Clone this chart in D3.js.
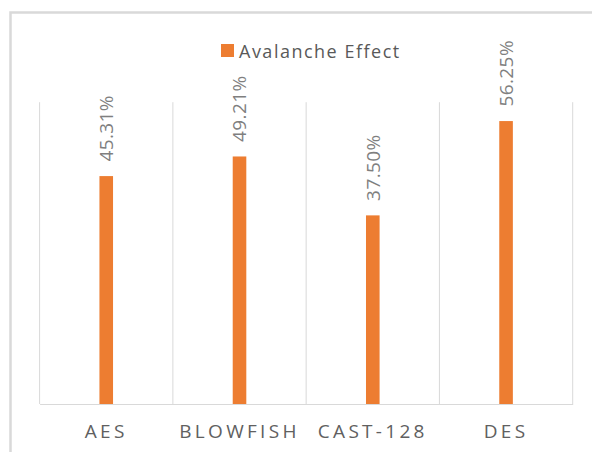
<!DOCTYPE html>
<html>
<head>
<meta charset="utf-8">
<script src="https://cdn.jsdelivr.net/npm/d3@7"></script>
<style>
  html, body { margin: 0; padding: 0; background: #ffffff; }
  svg { display: block; }
</style>
</head>
<body>
<div id="chart"></div>
<script>
const categories = ["AES", "BLOWFISH", "CAST-128", "DES"];
const seriesName = "Avalanche Effect";
const values = [0.4531, 0.4921, 0.3750, 0.5625];
const yMax = 0.6;

const W = 592, H = 452;
const svg = d3.select("#chart").append("svg").attr("width", W).attr("height", H);

// chart area border (extends beyond right/bottom edges)
svg.append("path")
  .attr("d", `M10.5,${H + 5} L10.5,12.5 L${W + 5},12.5`)
  .attr("fill", "none")
  .attr("stroke", "#d9d9d9")
  .attr("stroke-width", 2.5);

const plot = { left: 39.6, right: 572.7, top: 102.2, bottom: 404 };

const x = d3.scaleBand().domain(categories).range([plot.left, plot.right]).padding(0);
const y = d3.scaleLinear().domain([0, yMax]).range([plot.bottom, plot.top]);

// vertical category gridlines
const bounds = categories.map(c => x(c)).concat([x(categories[categories.length - 1]) + x.bandwidth()]);
svg.append("g").selectAll("line").data(bounds).join("line")
  .attr("x1", d => d).attr("x2", d => d)
  .attr("y1", y(yMax)).attr("y2", y(0))
  .attr("stroke", "#d9d9d9").attr("stroke-width", 1);

// x axis
const xAxis = d3.axisBottom(x).tickSize(0).tickPadding(0);
const gx = svg.append("g").attr("transform", `translate(0,${y(0)})`).call(xAxis);
gx.select(".domain").attr("stroke", "#d9d9d9").attr("stroke-width", 1.2);
gx.selectAll(".tick text")
  .attr("y", 0)
  .attr("dy", 34)
  .attr("fill", "#606060")
  .style("font-family", "'Open Sans', sans-serif")
  .style("font-size", "19px")
  .style("letter-spacing", "3.3px");

// bars
const barW = x.bandwidth() * 0.102;
svg.append("g").selectAll("rect").data(values).join("rect")
  .attr("x", (d, i) => x(categories[i]) + x.bandwidth() / 2 - barW / 2)
  .attr("y", d => y(d))
  .attr("width", barW)
  .attr("height", d => y(0) - y(d))
  .attr("fill", "#ed7d31");

// data labels (rotated)
const fmt = d3.format(".2%");
svg.append("g").selectAll("text").data(values).join("text")
  .attr("transform", (d, i) => `translate(${x(categories[i]) + x.bandwidth() / 2},${y(d) - 14.5}) rotate(-90)`)
  .attr("dy", "0.36em")
  .attr("text-anchor", "start")
  .attr("fill", "#7f7f7f")
  .style("font-family", "'Open Sans', sans-serif")
  .style("font-size", "19px")
  .style("letter-spacing", "0.4px")
  .text(d => fmt(d));

// legend
const lg = svg.append("g");
lg.append("rect").attr("x", 221).attr("y", 44).attr("width", 13).attr("height", 13).attr("fill", "#ed7d31");
lg.append("text")
  .attr("x", 239).attr("y", 57.5)
  .attr("fill", "#595959")
  .style("font-family", "'Open Sans', sans-serif")
  .style("font-size", "18px")
  .style("letter-spacing", "1.5px")
  .text(seriesName);
</script>
</body>
</html>
